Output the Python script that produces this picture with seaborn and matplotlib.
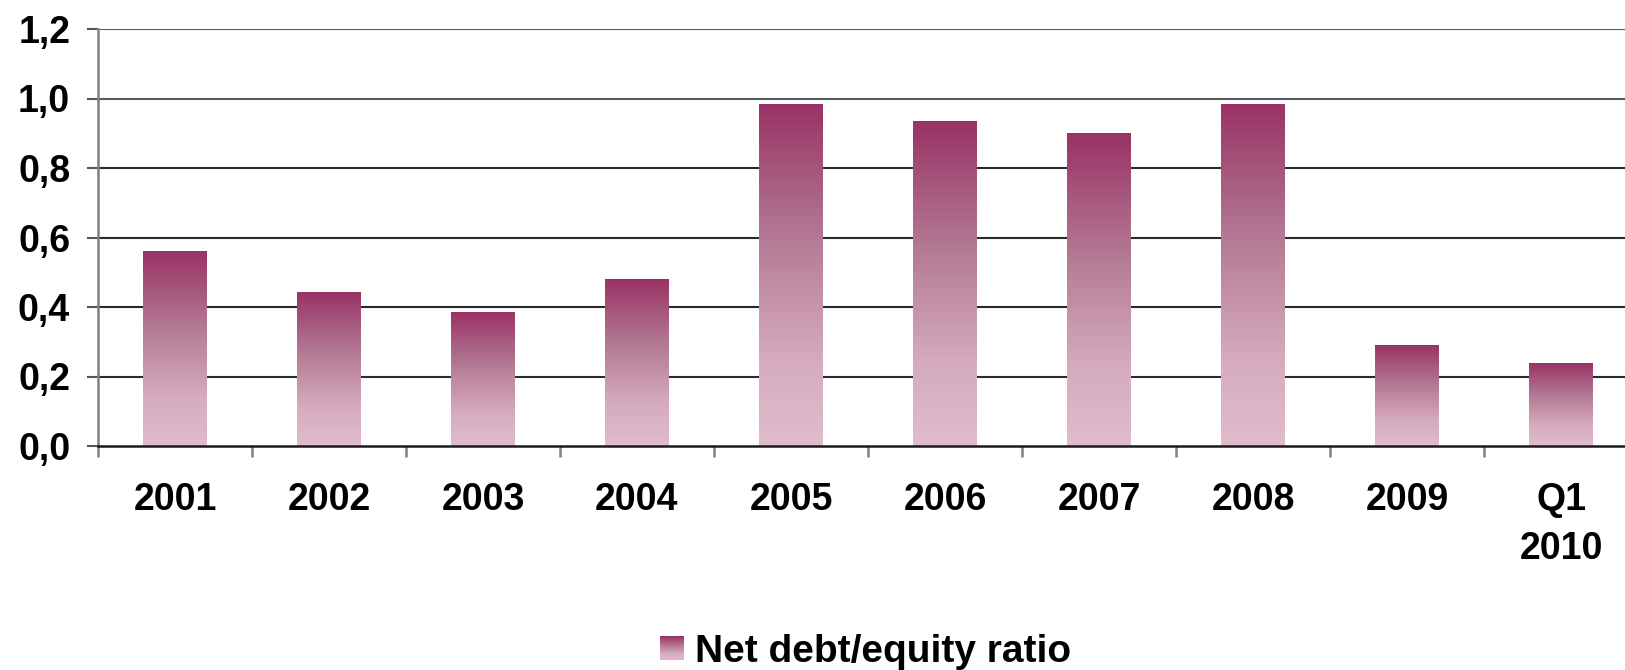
import numpy as np
import pandas as pd
import seaborn as sns
import matplotlib
matplotlib.use("Agg")
import matplotlib.pyplot as plt
from matplotlib.colors import LinearSegmentedColormap
from matplotlib.patches import Rectangle
from matplotlib.legend_handler import HandlerBase

categories = ["2001", "2002", "2003", "2004", "2005", "2006", "2007", "2008", "2009", "Q1\n2010"]
values = [0.560, 0.443, 0.383, 0.478, 0.983, 0.934, 0.900, 0.984, 0.289, 0.238]
yticks = [0.0, 0.2, 0.4, 0.6, 0.8, 1.0, 1.2]
ytick_labels = ["0,0", "0,2", "0,4", "0,6", "0,8", "1,0", "1,2"]
series_name = "Net debt/equity ratio"

sns.set_theme(style="white")
plt.rcParams['font.family'] = ['Liberation Sans', 'DejaVu Sans']
plt.rcParams['text.color'] = 'black'

cmap = LinearSegmentedColormap.from_list(
    "grad", [(0.0, "#e0bccd"), (0.25, "#d6abbf"), (0.6, "#b47b95"), (1.0, "#993366")])

fig = plt.figure(figsize=(16.25, 6.7), dpi=100)
ax = fig.add_axes([98 / 1625, 1 - 446 / 670, 1540 / 1625, 417 / 670])

df = pd.DataFrame({"cat": categories, "val": values})
sns.barplot(data=df, x="cat", y="val", ax=ax, width=0.41, color="#b47b95",
            saturation=1, edgecolor="none", errorbar=None)

grad = np.linspace(0, 1, 256).reshape(-1, 1)
for p in list(ax.patches):
    x0, y0 = p.get_x(), p.get_y()
    w, h = p.get_width(), p.get_height()
    ax.imshow(grad, cmap=cmap, origin="lower", extent=[x0, x0 + w, y0, y0 + h],
              aspect="auto", zorder=2, interpolation="bilinear")
    p.set_visible(False)

ax.set_xlim(-0.5, 9.5)
ax.set_ylim(0, 1.2)
ax.set_xlabel("")
ax.set_ylabel("")

# y ticks
ax.set_yticks(yticks)
ax.set_yticklabels(ytick_labels, fontsize=27, fontweight="bold", color="black")
ax.tick_params(axis="y", left=True, length=8, width=1.5, color="#555555", pad=12)

# grid
ax.set_axisbelow(True)
ax.yaxis.grid(False)
ax.xaxis.grid(False)
for yv in yticks[1:]:
    ax.axhline(yv, color="#5a5a5a" if yv >= 1.0 else "#2a2a2a", linewidth=1.5, zorder=0.5)

# x ticks: major at boundaries (no labels), minor at centers (labels)
ax.set_xticks(np.arange(-0.5, 10, 1))
ax.set_xticklabels([])
ax.set_xticks(np.arange(10), minor=True)
ax.set_xticklabels(categories, minor=True, fontsize=27, fontweight="bold", color="black")
for t in ax.get_xticklabels(minor=True):
    t.set_linespacing(1.45)
ax.tick_params(axis="x", which="major", bottom=True, length=8, width=1.8, color="#808080")
ax.tick_params(axis="x", which="minor", bottom=True, length=0, pad=26)

for s in ["top", "right"]:
    ax.spines[s].set_visible(False)
ax.spines["left"].set_color("#808080")
ax.spines["left"].set_linewidth(1.8)
ax.spines["bottom"].set_color("#1a1a1a")
ax.spines["bottom"].set_linewidth(1.8)


class GradHandler(HandlerBase):
    def create_artists(self, legend, orig_handle, xdescent, ydescent, width, height, fontsize, trans):
        n = 30
        arts = []
        for i in range(n):
            c = cmap(i / (n - 1))
            r = Rectangle((-xdescent, -ydescent + height * i / n), width, height / n * 1.05,
                          facecolor=c, edgecolor="none", linewidth=0, transform=trans)
            arts.append(r)
        return arts


h = Rectangle((0, 0), 1, 1)
leg = fig.legend(handles=[h], labels=[series_name], handler_map={h: GradHandler()},
                 loc="center", bbox_to_anchor=(866 / 1625, 1 - 652 / 670), frameon=False,
                 prop={"weight": "bold", "size": 28}, handlelength=0.6, handleheight=0.58,
                 handletextpad=0.3)
for t in leg.get_texts():
    t.set_color("black")

fig.savefig("out.png", dpi=100)
